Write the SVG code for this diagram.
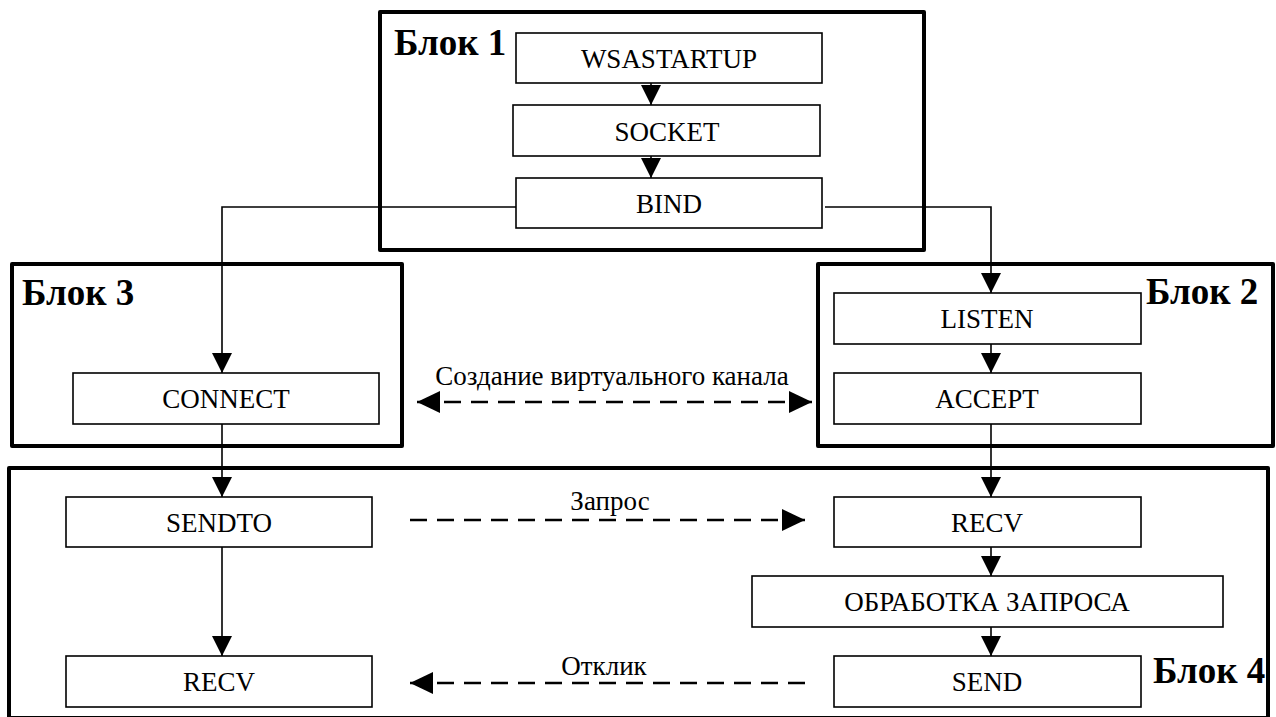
<svg xmlns="http://www.w3.org/2000/svg" width="1276" height="717" viewBox="0 0 1276 717">
<defs>
<style>
.blk{fill:none;stroke:#000;stroke-width:4;stroke-linejoin:round}
.box{fill:#fff;stroke:#000;stroke-width:1.6}
.t{font-family:"Liberation Serif","Times New Roman",serif;font-size:27px;fill:#000;text-anchor:middle}
.bl{font-family:"Liberation Serif","Times New Roman",serif;font-size:37px;font-weight:bold;fill:#000}
.ln{fill:none;stroke:#000;stroke-width:1.6}
.dl{fill:none;stroke:#000;stroke-width:2.6;stroke-dasharray:17 10}
</style>
<marker id="ah" markerUnits="userSpaceOnUse" markerWidth="20" markerHeight="20" refX="20" refY="10" orient="auto">
<path d="M0,0 L20,10 L0,20 z" fill="#000"/>
</marker>
<marker id="dh" markerUnits="userSpaceOnUse" markerWidth="23" markerHeight="22" refX="23" refY="11" orient="auto">
<path d="M0,0 L23,11 L0,22 z" fill="#000"/>
</marker>
<marker id="dhs" markerUnits="userSpaceOnUse" markerWidth="23" markerHeight="22" refX="23" refY="11" orient="auto-start-reverse">
<path d="M0,0 L23,11 L0,22 z" fill="#000"/>
</marker>
</defs>
<rect width="1276" height="717" fill="#fff"/>
<g id="block1">
<rect class="blk" x="380" y="12" width="544" height="238"/>
<text class="bl" x="394" y="55">Блок 1</text>
</g>
<g id="block3">
<rect class="blk" x="12" y="264" width="390" height="182"/>
<text class="bl" x="22" y="305">Блок 3</text>
</g>
<g id="block2">
<rect class="blk" x="818" y="264" width="455" height="182"/>
<text class="bl" x="1146" y="304">Блок 2</text>
</g>
<g id="block4">
<rect class="blk" x="9" y="468" width="1259" height="250"/>
<text class="bl" x="1153" y="683">Блок 4</text>
</g>
<g id="connectors">
<line class="ln" x1="651" y1="83" x2="651" y2="105" marker-end="url(#ah)"/>
<line class="ln" x1="651" y1="156" x2="651" y2="178" marker-end="url(#ah)"/>
<polyline class="ln" points="516,207 222,207 222,373" marker-end="url(#ah)"/>
<polyline class="ln" points="825,207 991,207 991,293" marker-end="url(#ah)"/>
<line class="ln" x1="991" y1="344" x2="991" y2="373" marker-end="url(#ah)"/>
<line class="ln" x1="222" y1="424" x2="222" y2="497" marker-end="url(#ah)"/>
<line class="ln" x1="991" y1="424" x2="991" y2="497" marker-end="url(#ah)"/>
<line class="ln" x1="222" y1="547" x2="222" y2="656" marker-end="url(#ah)"/>
<line class="ln" x1="991" y1="547" x2="991" y2="576" marker-end="url(#ah)"/>
<line class="ln" x1="991" y1="627" x2="991" y2="656" marker-end="url(#ah)"/>
<line class="dl" x1="417" y1="402" x2="812" y2="402" marker-start="url(#dhs)" marker-end="url(#dh)"/>
<text class="t" x="612" y="385">Создание виртуального канала</text>
<line class="dl" x1="410" y1="520" x2="805" y2="520" marker-end="url(#dh)"/>
<text class="t" x="610" y="510">Запрос</text>
<line class="dl" x1="805" y1="683" x2="410" y2="683" marker-end="url(#dh)"/>
<text class="t" x="604" y="675">Отклик</text>
</g>
<g id="wsastartup">
<rect class="box" x="516" y="33" width="306" height="50"/>
<text class="t" x="669" y="68">WSASTARTUP</text>
</g>
<g id="socket">
<rect class="box" x="513" y="105" width="307" height="51"/>
<text class="t" x="667" y="141">SOCKET</text>
</g>
<g id="bind">
<rect class="box" x="516" y="178" width="306" height="50"/>
<text class="t" x="669" y="213">BIND</text>
</g>
<g id="connect">
<rect class="box" x="73" y="373" width="306" height="51"/>
<text class="t" x="226" y="408">CONNECT</text>
</g>
<g id="listen">
<rect class="box" x="834" y="293" width="307" height="51"/>
<text class="t" x="987" y="328">LISTEN</text>
</g>
<g id="accept">
<rect class="box" x="834" y="373" width="307" height="51"/>
<text class="t" x="987" y="408">ACCEPT</text>
</g>
<g id="sendto">
<rect class="box" x="66" y="497" width="306" height="50"/>
<text class="t" x="219" y="532">SENDTO</text>
</g>
<g id="recv_client">
<rect class="box" x="66" y="656" width="306" height="51"/>
<text class="t" x="219" y="691">RECV</text>
</g>
<g id="recv_server">
<rect class="box" x="834" y="497" width="307" height="50"/>
<text class="t" x="987" y="532">RECV</text>
</g>
<g id="processing">
<rect class="box" x="752" y="576" width="471" height="51"/>
<text class="t" x="987" y="611">ОБРАБОТКА ЗАПРОСА</text>
</g>
<g id="send">
<rect class="box" x="834" y="656" width="307" height="51"/>
<text class="t" x="987" y="691">SEND</text>
</g>
</svg>
